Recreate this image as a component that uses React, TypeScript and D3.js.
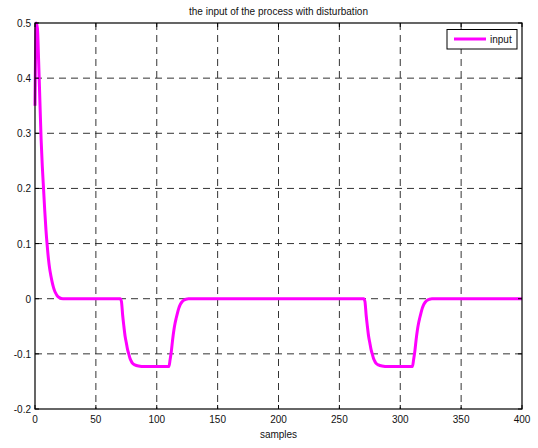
import { useRef, useEffect } from 'react';
import * as d3 from 'd3';

const samples = [0, 1, 2, 3, 4, 5, 6, 7, 8, 9, 10, 11, 12, 13, 14, 15, 16, 17, 18, 20, 23,
  70, 71, 72, 73, 74, 75, 76, 77, 78, 79, 80, 82, 85, 90, 110, 111, 112, 113, 114, 115, 116, 117, 118, 119, 120, 121, 122, 124, 126,
  270, 271, 272, 273, 274, 275, 276, 277, 278, 279, 280, 282, 285, 290, 310, 311, 312, 313, 314, 315, 316, 317, 318, 319, 320, 321, 322, 324, 326,
  400];
const inputValues = [0.35, 0.5, 0.49, 0.43, 0.36, 0.29, 0.24, 0.2, 0.16, 0.125, 0.097, 0.073, 0.055, 0.042, 0.031, 0.022, 0.015, 0.01, 0.006, 0.002, 0,
  0, -0.005, -0.03, -0.05, -0.068, -0.08, -0.092, -0.1, -0.108, -0.113, -0.117, -0.12, -0.122, -0.123, -0.123, -0.11, -0.095, -0.075, -0.058, -0.045, -0.035, -0.026, -0.018, -0.012, -0.008, -0.005, -0.003, -0.001, 0,
  0, -0.005, -0.03, -0.05, -0.068, -0.08, -0.092, -0.1, -0.108, -0.113, -0.117, -0.12, -0.122, -0.123, -0.123, -0.11, -0.095, -0.075, -0.058, -0.045, -0.035, -0.026, -0.018, -0.012, -0.008, -0.005, -0.003, -0.001, 0,
  0];
const xTicks = [0, 50, 100, 150, 200, 250, 300, 350, 400];
const yTicks = [-0.2, -0.1, 0, 0.1, 0.2, 0.3, 0.4, 0.5];
const titleText = 'the input of the process with disturbation';
const xLabel = 'samples';
const legendLabel = 'input';

export default function App() {
  const svgRef = useRef<SVGSVGElement>(null);
  const width = 538;
  const height = 448;
  const left = 35, right = 522, top = 23, bottom = 409;

  useEffect(() => {
    const svg = d3.select(svgRef.current);
    svg.selectAll('*').remove();

    const x = d3.scaleLinear().domain([0, 400]).range([left, right]);
    const y = d3.scaleLinear().domain([-0.2, 0.5]).range([bottom, top]);
    const font = 'Liberation Sans, Arial, sans-serif';

    // grid
    svg.append('g').selectAll('line').data(xTicks.slice(1, -1)).enter().append('line')
      .attr('x1', d => x(d)).attr('x2', d => x(d))
      .attr('y1', top).attr('y2', bottom)
      .attr('stroke', '#333').attr('stroke-dasharray', '7,5');
    svg.append('g').selectAll('line').data(yTicks.slice(1, -1)).enter().append('line')
      .attr('x1', left).attr('x2', right)
      .attr('y1', d => y(d)).attr('y2', d => y(d))
      .attr('stroke', '#333').attr('stroke-dasharray', '7,5');

    // line
    const pts = samples.map((s, i) => [s, inputValues[i]] as [number, number]);
    const line = d3.line<[number, number]>().x(d => x(d[0])).y(d => y(d[1])).curve(d3.curveMonotoneX);
    svg.append('path').datum(pts)
      .attr('d', line)
      .attr('fill', 'none')
      .attr('stroke', '#ff00ff')
      .attr('stroke-width', 3)
      .attr('stroke-linejoin', 'round');

    // box
    svg.append('rect')
      .attr('x', left).attr('y', top)
      .attr('width', right - left).attr('height', bottom - top)
      .attr('fill', 'none').attr('stroke', '#000').attr('stroke-width', 1.2);

    // ticks
    svg.append('g').selectAll('line').data(xTicks).enter().append('line')
      .attr('x1', d => x(d)).attr('x2', d => x(d))
      .attr('y1', bottom).attr('y2', bottom - 4).attr('stroke', '#000');
    svg.append('g').selectAll('line').data(xTicks).enter().append('line')
      .attr('x1', d => x(d)).attr('x2', d => x(d))
      .attr('y1', top).attr('y2', top + 4).attr('stroke', '#000');
    svg.append('g').selectAll('line').data(yTicks).enter().append('line')
      .attr('x1', left).attr('x2', left + 4)
      .attr('y1', d => y(d)).attr('y2', d => y(d)).attr('stroke', '#000');
    svg.append('g').selectAll('line').data(yTicks).enter().append('line')
      .attr('x1', right).attr('x2', right - 4)
      .attr('y1', d => y(d)).attr('y2', d => y(d)).attr('stroke', '#000');

    // tick labels
    svg.append('g').selectAll('text').data(xTicks).enter().append('text')
      .attr('x', d => x(d)).attr('y', bottom + 14)
      .attr('text-anchor', 'middle')
      .attr('font-family', font).attr('font-size', 10).attr('fill', '#111')
      .text(d => String(d));
    svg.append('g').selectAll('text').data(yTicks).enter().append('text')
      .attr('x', left - 4).attr('y', d => y(d) + 4)
      .attr('text-anchor', 'end')
      .attr('font-family', font).attr('font-size', 10).attr('fill', '#111')
      .text(d => (d === 0 ? '0' : String(d)));

    // title & label
    svg.append('text')
      .attr('x', (left + right) / 2).attr('y', 15)
      .attr('text-anchor', 'middle')
      .attr('font-family', font).attr('font-size', 10).attr('fill', '#111')
      .text(titleText);
    svg.append('text')
      .attr('x', (left + right) / 2).attr('y', 438)
      .attr('text-anchor', 'middle')
      .attr('font-family', font).attr('font-size', 10).attr('fill', '#111')
      .text(xLabel);

    // legend
    const lg = svg.append('g');
    lg.append('rect')
      .attr('x', 447).attr('y', 29.5).attr('width', 70).attr('height', 19.5)
      .attr('fill', '#fff').attr('stroke', '#000');
    lg.append('line')
      .attr('x1', 454).attr('x2', 486).attr('y1', 39).attr('y2', 39)
      .attr('stroke', '#ff00ff').attr('stroke-width', 3);
    lg.append('text')
      .attr('x', 490).attr('y', 42.5)
      .attr('font-family', font).attr('font-size', 10).attr('fill', '#111')
      .text(legendLabel);
  }, []);

  return (
    <svg ref={svgRef} width={width} height={height}
      style={{ position: 'absolute', left: 0, top: 0, background: '#fff' }} />
  );
}
